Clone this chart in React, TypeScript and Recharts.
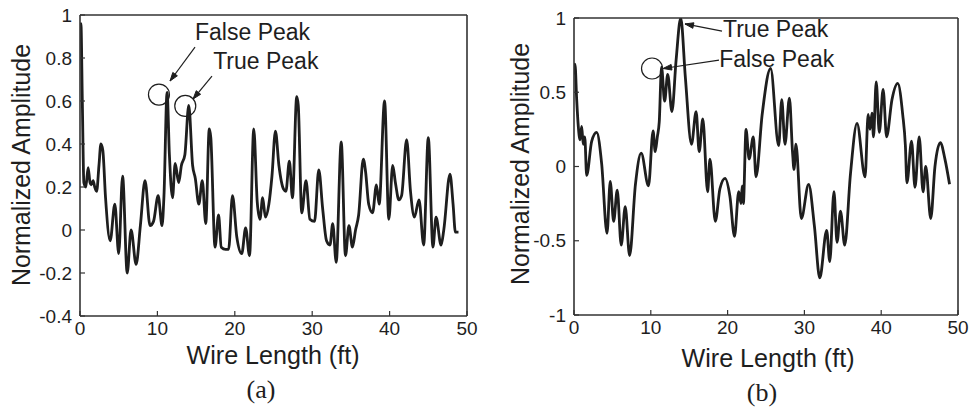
import { Line, LineChart, ReferenceDot, ReferenceLine, XAxis, YAxis } from 'recharts'

// (a) amplitude vs wire length
const wireLengthA = [
  0, 0.12, 0.3, 0.5, 0.75, 1.05, 1.3, 1.45, 1.7, 1.9, 2.15, 2.45, 2.7, 2.95, 3.3, 3.9, 4.5, 5.0, 5.5,
  6.1, 6.6, 7.25, 7.8, 8.4, 9.05, 9.5, 10.1, 10.6, 10.85, 11.25, 11.55, 11.95, 12.3, 12.75, 13.1,
  13.55, 14.05, 14.55, 14.9, 15.35, 15.8, 16.25, 16.7, 16.9, 17.45, 17.9, 18.25, 18.8, 19.2, 19.7,
  20.25, 20.9, 21.4, 21.9, 22.45, 22.9, 23.25, 23.6, 23.95, 24.4, 24.8, 25.25, 25.7, 26.3, 26.6,
  27.05, 27.45, 28.0, 28.2, 28.65, 29.2, 29.7, 30.3, 30.85, 31.35, 31.85, 32.3, 32.65, 33.1, 33.75,
  34.3, 34.75, 35.2, 35.6, 36.0, 36.6, 36.9, 37.3, 37.8, 38.3, 38.65, 39.35, 39.9, 40.4, 40.75,
  41.2, 41.55, 42.2, 42.7, 43.2, 43.8, 44.4, 45.0, 45.6, 46.0, 46.65, 47.0, 47.8, 48.2, 48.5, 48.9,
]
const amplitudeA = [
  0.93, 0.96, 0.6, 0.22, 0.2, 0.29, 0.22, 0.21, 0.23, 0.2, 0.18, 0.3, 0.4, 0.37, 0.15, -0.05, 0.12,
  -0.11, 0.25, -0.2, 0.0, -0.16, 0.02, 0.23, 0.02, 0.04, 0.16, 0.02, 0.16, 0.64, 0.35, 0.15, 0.31,
  0.22, 0.3, 0.35, 0.58, 0.3, 0.24, 0.12, 0.23, 0.03, 0.47, 0.43, -0.08, 0.07, -0.08, -0.09, -0.09,
  0.16, -0.03, -0.11, 0.01, -0.12, 0.47, 0.13, 0.05, 0.15, 0.06, 0.12, 0.25, 0.46, 0.3, 0.19, 0.18,
  0.32, 0.15, 0.62, 0.58, 0.08, 0.23, 0.05, 0.04, 0.28, 0.1, -0.05, -0.07, 0.03, -0.15, 0.41, -0.12,
  0.02, -0.08, 0.0, 0.07, 0.33, 0.27, 0.12, 0.08, 0.21, 0.12, 0.6, 0.05, 0.3, 0.22, 0.14, 0.16, 0.42,
  0.18, 0.06, 0.14, -0.07, 0.43, -0.08, 0.06, -0.07, 0.0, 0.26, 0.12, -0.01, -0.01,
]

// (b)
const wireLengthB = [
  0, 0.13, 0.35, 0.56, 0.78, 1.0, 1.2, 1.4, 1.65, 2.3, 2.95, 3.6, 4.3, 4.72, 5.16, 5.63, 6.15, 6.67,
  7.24, 8.0, 8.75, 9.7, 10.3, 10.57, 10.85, 11.1, 11.4, 11.8, 12.2, 12.75, 13.3, 13.9, 14.5, 15.3,
  15.9, 16.3, 16.77, 17.4, 17.7, 18.4, 19.0, 19.67, 20.3, 20.9, 21.45, 21.75, 21.9, 22.05, 22.4,
  22.8, 23.35, 23.7, 24.5, 25.6, 26.65, 27.05, 27.47, 28.05, 28.45, 28.65, 28.9, 29.6, 30.55, 31.3,
  32.0, 32.9, 33.3, 33.85, 34.25, 34.7, 35.25, 36.0, 36.85, 37.9, 38.3, 38.55, 38.8, 39.0, 39.35,
  39.75, 40.25, 40.7, 41.4, 42.15, 42.8, 43.15, 43.35, 43.95, 44.4, 44.95, 45.45, 45.8, 46.45, 47.0,
  47.7, 48.3, 48.9,
]
const amplitudeB = [
  0.62, 0.69, 0.45, 0.27, 0.18, 0.27, 0.15, 0.2, -0.06, 0.17, 0.23, 0.02, -0.45, -0.1, -0.37, -0.16,
  -0.53, -0.27, -0.6, -0.12, 0.09, -0.13, 0.24, 0.1, 0.2, 0.3, 0.67, 0.44, 0.62, 0.37, 0.72, 1.0, 0.6,
  0.15, 0.37, 0.1, 0.32, -0.17, 0.05, -0.37, -0.15, -0.08, -0.2, -0.47, -0.17, -0.25, -0.13, -0.25,
  0.25, 0.05, 0.2, -0.07, 0.35, 0.66, 0.14, 0.45, 0.15, 0.46, 0.1, -0.02, 0.15, -0.35, -0.12, -0.4,
  -0.75, -0.43, -0.64, -0.17, -0.51, -0.3, -0.53, -0.05, 0.29, -0.07, 0.35, 0.25, 0.36, 0.2, 0.57,
  0.23, 0.52, 0.2, 0.45, 0.56, 0.35, 0.14, -0.11, 0.17, -0.14, 0.2, -0.17, 0.0, -0.35, 0.0, 0.16,
  0.05, -0.12,
]

const xTicks = [0, 10, 20, 30, 40, 50]
const yTicksA = [-0.4, -0.2, 0, 0.2, 0.4, 0.6, 0.8, 1]
const yTicksB = [-1, -0.5, 0, 0.5, 1]

// annotation anchors (data units)
const circlesA = [
  { x: 10.2, y: 0.63 },
  { x: 13.6, y: 0.577 },
]
const notesA = [
  { label: 'False Peak', x: 14.86, y: 0.92, from: { x: 14.86, y: 0.851 }, to: { x: 11.63, y: 0.693 } },
  { label: 'True Peak', x: 17.2, y: 0.786, from: { x: 17.05, y: 0.716 }, to: { x: 14.6, y: 0.609 } },
]
const circlesB = [{ x: 10.16, y: 0.66 }]
const notesB = [
  { label: 'True Peak', x: 19.4, y: 0.926, from: { x: 19.27, y: 0.912 }, to: { x: 14.45, y: 0.96 } },
  { label: 'False Peak', x: 18.9, y: 0.723, from: { x: 18.88, y: 0.716 }, to: { x: 11.6, y: 0.66 } },
]

const SANS = '"Liberation Sans", Arial, sans-serif'
const SERIF = '"Liberation Serif", "Times New Roman", serif'
const INK = '#1e1e1e'
const AXIS = '#333'

type Pt = { x: number; y: number }
type Note = { label: string; x: number; y: number; from: Pt; to: Pt }

function Arrow(props: any) {
  const { x1, y1, x2, y2 } = props
  const a = Math.atan2(y2 - y1, x2 - x1)
  const len = 9
  const w = 0.32
  const p1 = `${x2 - len * Math.cos(a - w)},${y2 - len * Math.sin(a - w)}`
  const p2 = `${x2 - len * Math.cos(a + w)},${y2 - len * Math.sin(a + w)}`
  return (
    <g>
      <line x1={x1} y1={y1} x2={x2} y2={y2} stroke={INK} strokeWidth={1.2} />
      <path d={`M${p1}L${x2},${y2}L${p2}Z`} fill={INK} stroke={INK} strokeWidth={1} />
    </g>
  )
}

function noteText(label: string) {
  return (props: any) => (
    <text
      x={props.cx}
      y={props.cy}
      dominantBaseline="central"
      fontFamily={SANS}
      fontSize={23}
      fill={INK}
    >
      {label}
    </text>
  )
}

function Panel({
  xs,
  ys,
  yDomain,
  yTicks,
  circles,
  notes,
  left,
  width,
  margin,
}: {
  xs: number[]
  ys: number[]
  yDomain: [number, number]
  yTicks: number[]
  circles: Pt[]
  notes: Note[]
  left: number
  width: number
  margin: { top: number; right: number; bottom: number; left: number }
}) {
  const data = xs.map((x, i) => ({ x, y: ys[i] }))
  const tickStyle = { fontFamily: SANS, fontSize: 19, fill: INK }
  const tickLine = { stroke: AXIS, strokeWidth: 1.2 }
  const axisLine = { stroke: AXIS, strokeWidth: 1.6 }
  return (
    <div style={{ position: 'absolute', left, top: 0 }}>
      <LineChart width={width} height={410} data={data} margin={margin}>
        <XAxis
          xAxisId="b"
          dataKey="x"
          type="number"
          domain={[0, 50]}
          ticks={xTicks}
          allowDataOverflow
          tickSize={-5}
          tickMargin={11}
          height={30}
          tick={tickStyle}
          tickLine={tickLine}
          axisLine={axisLine}
        />
        <XAxis
          xAxisId="t"
          orientation="top"
          dataKey="x"
          type="number"
          domain={[0, 50]}
          ticks={xTicks}
          allowDataOverflow
          tickSize={-5}
          height={1}
          tick={false}
          tickLine={tickLine}
          axisLine={axisLine}
        />
        <YAxis
          yAxisId="l"
          type="number"
          domain={yDomain}
          ticks={yTicks}
          allowDataOverflow
          tickSize={-5}
          tickMargin={13}
          width={60}
          tick={tickStyle}
          tickLine={tickLine}
          axisLine={axisLine}
        />
        <YAxis
          yAxisId="r"
          orientation="right"
          type="number"
          domain={yDomain}
          ticks={yTicks}
          allowDataOverflow
          tickSize={-5}
          width={1}
          tick={false}
          tickLine={tickLine}
          axisLine={axisLine}
        />
        <Line
          xAxisId="b"
          yAxisId="l"
          dataKey="y"
          type="monotone"
          stroke={INK}
          strokeWidth={2.8}
          dot={false}
          isAnimationActive={false}
        />
        {circles.map((c, i) => (
          <ReferenceDot
            key={'c' + i}
            xAxisId="b"
            yAxisId="l"
            x={c.x}
            y={c.y}
            r={10.5}
            fill="none"
            stroke={INK}
            strokeWidth={1.2}
          />
        ))}
        {notes.map((n, i) => (
          <ReferenceLine
            key={'a' + i}
            xAxisId="b"
            yAxisId="l"
            segment={[n.from, n.to]}
            shape={Arrow}
          />
        ))}
        {notes.map((n, i) => (
          <ReferenceDot
            key={'t' + i}
            xAxisId="b"
            yAxisId="l"
            x={n.x}
            y={n.y}
            r={1}
            shape={noteText(n.label)}
          />
        ))}
      </LineChart>
    </div>
  )
}

export default function App() {
  const label = { fontFamily: SANS, fontSize: 26, fill: INK }
  return (
    <div style={{ position: 'absolute', left: 0, top: 0, width: 969, height: 410, background: '#fff' }}>
      <svg width={969} height={410} style={{ position: 'absolute', left: 0, top: 0 }}>
        <text x={21} y={165} transform="rotate(-90 21 165)" textAnchor="middle" dominantBaseline="central" textLength={242} lengthAdjust="spacingAndGlyphs" {...label}>
          Normalized Amplitude
        </text>
        <text x={273} y={355} textAnchor="middle" dominantBaseline="central" textLength={173} lengthAdjust="spacingAndGlyphs" {...label}>
          Wire Length (ft)
        </text>
        <text x={261} y={389} textAnchor="middle" dominantBaseline="central" fontFamily={SERIF} fontSize={26} fill={INK}>
          (a)
        </text>
        <text x={520} y={164} transform="rotate(-90 520 164)" textAnchor="middle" dominantBaseline="central" textLength={242} lengthAdjust="spacingAndGlyphs" {...label}>
          Normalized Amplitude
        </text>
        <text x={768} y={358} textAnchor="middle" dominantBaseline="central" textLength={173} lengthAdjust="spacingAndGlyphs" {...label}>
          Wire Length (ft)
        </text>
        <text x={762} y={392} textAnchor="middle" dominantBaseline="central" fontFamily={SERIF} fontSize={26} fill={INK}>
          (b)
        </text>
      </svg>
      <Panel
        xs={wireLengthA}
        ys={amplitudeA}
        yDomain={[-0.4, 1]}
        yTicks={yTicksA}
        circles={circlesA}
        notes={notesA}
        left={0}
        width={480}
        margin={{ top: 14, right: 12, bottom: 64, left: 20 }}
      />
      <Panel
        xs={wireLengthB}
        ys={amplitudeB}
        yDomain={[-1, 1]}
        yTicks={yTicksB}
        circles={circlesB}
        notes={notesB}
        left={480}
        width={489}
        margin={{ top: 17, right: 10, bottom: 65, left: 34 }}
      />
    </div>
  )
}
